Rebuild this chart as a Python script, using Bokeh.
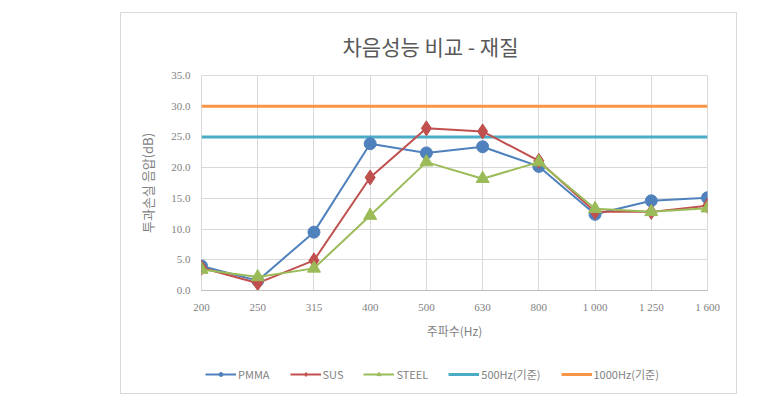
from bokeh.plotting import figure
from bokeh.models import (Range1d, FixedTicker, PrintfTickFormatter, Legend, LegendItem, Spacer)
from bokeh.layouts import row, column
from bokeh.embed import file_html
from bokeh.resources import INLINE

freqs = ["200", "250", "315", "400", "500", "630", "800", "1 000", "1 250", "1 600"]
pmma = [4.0, 1.6, 9.5, 23.9, 22.4, 23.4, 20.2, 12.4, 14.6, 15.1]
sus = [3.7, 1.2, 4.9, 18.4, 26.4, 25.9, 21.1, 12.8, 12.8, 13.8]
steel = [3.4, 2.2, 3.6, 12.2, 20.9, 18.2, 20.9, 13.3, 12.8, 13.4]
ref500 = [25.0] * len(freqs)
ref1000 = [30.0] * len(freqs)
y_ticks = [0, 5, 10, 15, 20, 25, 30, 35]
series_names = ["PMMA", "SUS", "STEEL", "500Hz(기준)", "1000Hz(기준)"]

idx = list(range(len(freqs)))
GRAY = "#7f7f7f"
TICKFONT = "Liberation Serif"
KFONT = "Noto Sans CJK KR"
C_BLUE, C_RED, C_GREEN, C_CYAN, C_ORANGE = "#4f81bd", "#c0504d", "#9bbb59", "#4bacc6", "#f79646"

p = figure(width=615, height=332, output_backend="svg", toolbar_location=None,
           x_range=Range1d(0, len(freqs) - 1), y_range=Range1d(0, 35),
           min_border_left=80, min_border_right=29, min_border_top=62, min_border_bottom=55)

p.title.text = "차음성능 비교 - 재질"
p.title.align = "left"
p.title.offset = 141
p.title.text_font = KFONT
p.title.text_font_size = "21px"
p.title.text_font_style = "normal"
p.title.text_color = "#595959"
p.title.standoff = 30

p.outline_line_color = "#d9d9d9"
p.xgrid.grid_line_color = "#d9d9d9"
p.ygrid.grid_line_color = "#d9d9d9"
p.xaxis.ticker = FixedTicker(ticks=idx)
p.xaxis.major_label_overrides = {i: f for i, f in enumerate(freqs)}
p.yaxis.ticker = FixedTicker(ticks=y_ticks)
p.yaxis.formatter = PrintfTickFormatter(format="%.1f")
p.xgrid.ticker = FixedTicker(ticks=idx)
p.ygrid.ticker = FixedTicker(ticks=y_ticks)

for ax in (p.xaxis[0], p.yaxis[0]):
    ax.major_tick_line_color = None
    ax.minor_tick_line_color = None
    ax.major_label_text_font = TICKFONT
    ax.major_label_text_font_size = "11px"
    ax.major_label_text_color = GRAY
    ax.axis_label_text_font = KFONT
    ax.axis_label_text_font_size = "12px"
    ax.axis_label_text_font_style = "normal"
    ax.axis_label_text_color = GRAY
p.yaxis.axis_line_color = None
p.xaxis.axis_line_color = "#bfbfbf"
p.xaxis.major_label_standoff = 4
p.yaxis.major_label_standoff = 5
p.yaxis.axis_label_text_font_size = "13px"
p.xaxis.axis_label = "주파수(Hz)"
p.yaxis.axis_label = "투과손실 음압(dB)"
p.xaxis.axis_label_standoff = 6
p.yaxis.axis_label_standoff = 11

p.line(idx, ref500, line_color=C_CYAN, line_width=3)
p.line(idx, ref1000, line_color=C_ORANGE, line_width=3)
p.line(idx, pmma, line_color=C_BLUE, line_width=2)
p.scatter(idx, pmma, marker="circle", size=12, fill_color=C_BLUE, line_color=C_BLUE)
p.line(idx, sus, line_color=C_RED, line_width=2)
p.scatter(idx, sus, marker="diamond", size=15, fill_color=C_RED, line_color=C_RED)
p.line(idx, steel, line_color=C_GREEN, line_width=2)
p.scatter(idx, steel, marker="triangle", size=13, fill_color=C_GREEN, line_color=C_GREEN)

# legend strip: a second figure whose view shows none of the series,
# so only its horizontal legend is visible under the chart
lg = figure(width=615, height=48, output_backend="svg", toolbar_location=None,
            min_border=0, x_axis_location=None, y_axis_location=None,
            x_range=Range1d(0, len(freqs) - 1), y_range=Range1d(-20, -10))
lg.grid.visible = False
lg.outline_line_color = None
series = [pmma, sus, steel, ref500, ref1000]
styles = [(C_BLUE, "circle", 2), (C_RED, "diamond", 2), (C_GREEN, "triangle", 2),
          (C_CYAN, None, 3), (C_ORANGE, None, 3)]
items = []
for name, ys, (col, mk, lw) in zip(series_names, series, styles):
    rs = [lg.line(idx, ys, line_color=col, line_width=lw)]
    if mk:
        rs.append(lg.scatter(idx, ys, marker=mk, size=7, fill_color=col, line_color=col))
    items.append(LegendItem(label=name, renderers=rs))
legend = Legend(items=items, orientation="horizontal", location=(4, 11),
                border_line_color=None, background_fill_alpha=0,
                label_text_font=KFONT, label_text_font_size="11px", label_text_color=GRAY,
                glyph_width=31, glyph_height=10, spacing=20, label_standoff=2,
                margin=0, padding=0)
lg.add_layout(legend)

card = column(p, lg, spacing=0)
card.styles = {"border": "1px solid #d9d9d9"}
layout = column(Spacer(height=12), row(Spacer(width=120), card))
open("out.html", "w").write(file_html(layout, INLINE))
